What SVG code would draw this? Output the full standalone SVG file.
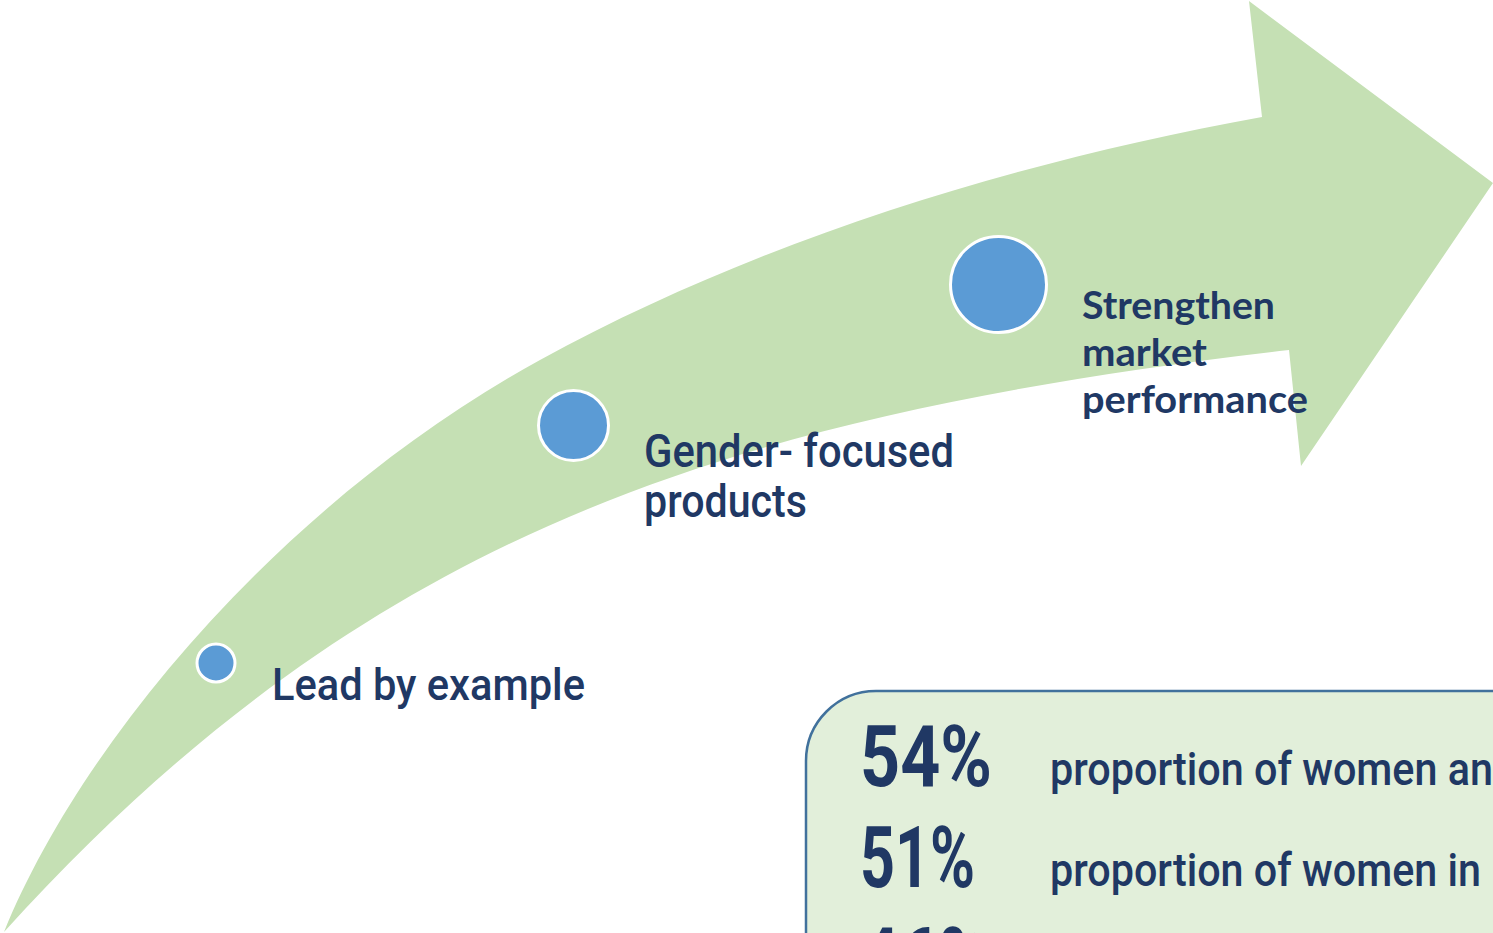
<svg xmlns="http://www.w3.org/2000/svg" width="1493" height="933" viewBox="0 0 1493 933">
<style>
.dot{fill:#5B9BD5;stroke:#FFFFFF;stroke-width:3}
.din{font-family:Roboto,"Liberation Sans",sans-serif;font-weight:500;fill:#203864}
.cal{font-family:Lato,"Liberation Sans",sans-serif;font-weight:bold;fill:#203864;font-size:38px}
.big{font-family:Roboto,"Liberation Sans",sans-serif;font-weight:bold;fill:#203864;font-size:86px}
</style>
<rect width="1493" height="933" fill="#FFFFFF"/>
<g id="arrow">
<path d="M 4 932 C 79 747, 277 505, 540 360 C 759 240, 1014 162, 1262 117 L 1249 1 L 1493 183 L 1301 466 L 1289 350 C 743 414, 372 525, 4 932 Z" fill="#C5E0B4"/>
</g>
<g id="node-lead">
<circle class="dot" cx="216" cy="663" r="19"/>
<text class="din" x="272" y="700" font-size="45" textLength="313" lengthAdjust="spacingAndGlyphs">Lead by example</text>
</g>
<g id="node-gender">
<circle class="dot" cx="573.5" cy="425.5" r="35"/>
<text class="din" x="644" y="467" font-size="46" textLength="310" lengthAdjust="spacingAndGlyphs">Gender- focused</text>
<text class="din" x="644" y="517" font-size="46" textLength="163" lengthAdjust="spacingAndGlyphs">products</text>
</g>
<g id="node-strengthen">
<circle class="dot" cx="998.5" cy="284.5" r="48"/>
<text class="cal" x="1082" y="319" textLength="193" lengthAdjust="spacingAndGlyphs">Strengthen</text>
<text class="cal" x="1082" y="366" textLength="125" lengthAdjust="spacingAndGlyphs">market</text>
<text class="cal" x="1082" y="413" textLength="226" lengthAdjust="spacingAndGlyphs">performance</text>
</g>
<g id="stats-box">
<path d="M 806 940 L 806 761 A 70 70 0 0 1 876 691 L 1500 691 L 1500 940 Z" fill="#E2EFDA" stroke="#41719C" stroke-width="2.5"/>
<text class="big" x="860" y="786" textLength="132" lengthAdjust="spacingAndGlyphs">54%</text>
<text class="din" x="1050" y="785" font-size="46" textLength="443" lengthAdjust="spacingAndGlyphs">proportion of women an</text>
<text class="big" x="860" y="887" textLength="115" lengthAdjust="spacingAndGlyphs">51%</text>
<text class="din" x="1050" y="886" font-size="46" textLength="431" lengthAdjust="spacingAndGlyphs">proportion of women in</text>
<text class="big" x="860" y="988" textLength="130" lengthAdjust="spacingAndGlyphs">46%</text>
</g>
</svg>
